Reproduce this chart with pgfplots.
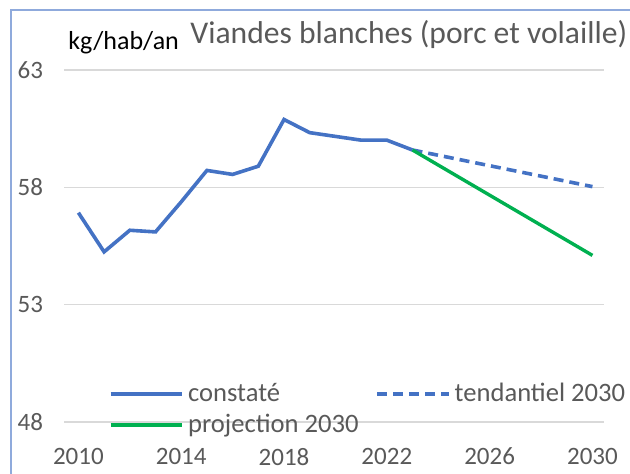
\documentclass[border=0pt]{standalone}
\usepackage{fontspec}
\setmainfont{Carlito}
\usepackage{pgfplots}
\pgfplotsset{compat=1.18}
\definecolor{cblue}{RGB}{68,114,196}
\definecolor{cgreen}{RGB}{0,176,80}
\definecolor{cgrid}{RGB}{217,217,217}
\definecolor{ctext}{RGB}{89,89,89}
\definecolor{cframe}{RGB}{143,170,220}
\begin{document}
\begin{tikzpicture}
\path[use as bounding box] (0,0) rectangle (315pt,237pt);
\draw[cframe, line width=0.7pt] (5.5pt,0) -- (5.5pt,232pt) -- (315pt,232pt);
\begin{axis}[
  at={(32pt,26pt)}, anchor=south west,
  scale only axis, width=270pt, height=176pt,
  xmin=2009.44, xmax=2030.45, ymin=48, ymax=63,
  axis line style={draw=none},
  major tick length=0pt,
  xtick={2010,2014,...,2030},
  ytick={48,53,58,63},
  ymajorgrids,
  grid style={cgrid, line width=0.75pt},
  /pgf/number format/assume math mode=true,
  /pgf/number format/1000 sep={},
  tick label style={font=\fontsize{12.5}{14}\selectfont, text=ctext},
  yticklabel style={xshift=-7pt},
  xticklabel style={yshift=-9.5pt},
  clip=false,
  legend columns=2,
  legend style={at={(axis cs:2011.17,49.85)}, anchor=north west, draw=none, fill=none,
    font=\fontsize{13.3}{16}\selectfont, text=ctext, inner sep=0pt,
    /tikz/every even column/.append style={column sep=6.5pt},
    row sep=1pt},
  legend cell align=left,
  legend image code/.code={\draw[#1] (0pt,0pt) -- (35.8pt,0pt);},
]
\addplot[cblue, line width=1.8pt] coordinates {
(2010,56.92) (2011,55.25) (2012,56.17) (2013,56.10) (2014,57.38) (2015,58.72)
(2016,58.55) (2017,58.90) (2018,60.89) (2019,60.33) (2020,60.17) (2021,60.01)
(2022,60.01) (2023,59.59)};
\addlegendentry{constaté}
\addplot[cblue, line width=1.8pt, dash pattern=on 5pt off 3pt] coordinates {
(2023,59.59) (2030,58.03)};
\addlegendentry{tendantiel 2030}
\addplot[cgreen, line width=1.7pt] coordinates {
(2023,59.59) (2030,55.1)};
\addlegendentry{projection 2030}
\end{axis}
\node[anchor=base west, inner sep=0pt, font=\fontsize{13}{15}\selectfont] at (34pt,212pt) {kg/hab/an};
\node[anchor=base west, inner sep=0pt, font=\fontsize{15.8}{18}\selectfont, text=ctext] at (95pt,215pt) {Viandes blanches (porc et volaille)};
\end{tikzpicture}
\end{document}
